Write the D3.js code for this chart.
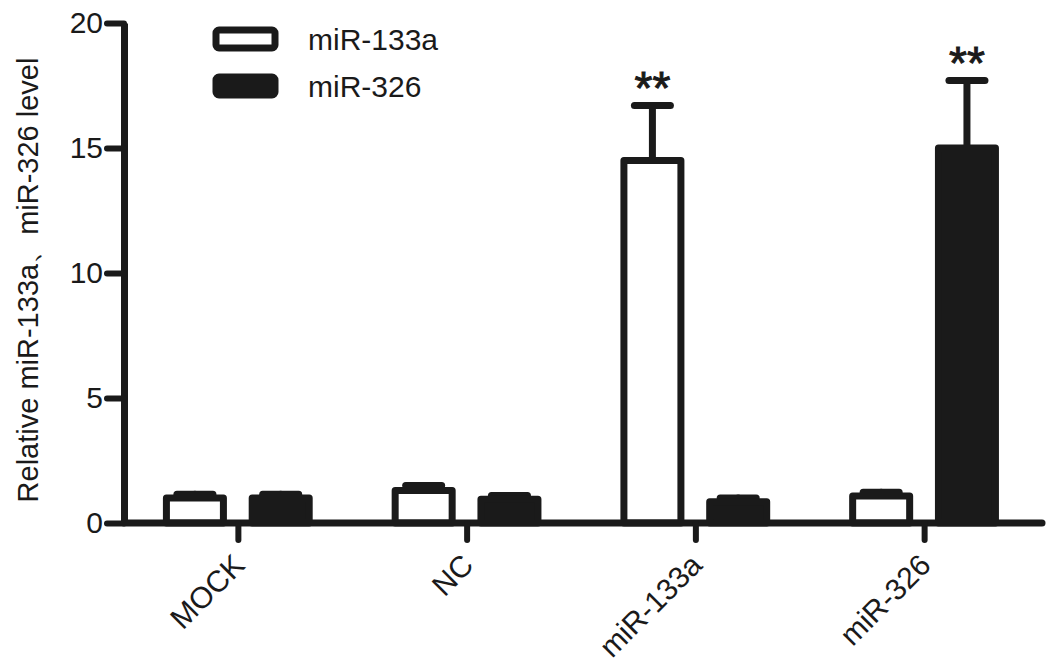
<!DOCTYPE html>
<html>
<head>
<meta charset="utf-8">
<script src="https://cdn.jsdelivr.net/npm/d3@7"></script>
<style>
  body { margin: 0; background: #fff; }
  svg { display: block; font-family: "Liberation Sans", Arial, sans-serif; }
</style>
</head>
<body>
<script>
// Groups on the x axis and the two series
var categories = ["MOCK", "NC", "miR-133a", "miR-326"];
var seriesNames = ["miR-133a", "miR-326"];

// Relative level values
var mir133aValues = [1.0, 1.3, 14.5, 1.08];
var mir133aErrors = [0.15, 0.2, 2.2, 0.15];
var mir326Values = [1.0, 0.95, 0.85, 15.0];
var mir326Errors = [0.15, 0.15, 0.15, 2.7];
var mir133aMarks = ["", "", "**", ""];
var mir326Marks = ["", "", "", "**"];

var yTicks = [0, 5, 10, 15, 20];

var svgWidth = 1063;
var svgHeight = 666;
var ink = "#1a1a1a";
var lineW = 7;

var svg = d3.select("body")
  .append("svg")
  .attr("width", svgWidth)
  .attr("height", svgHeight);

// scales
var x0 = d3.scaleBand()
  .domain(categories)
  .range([124, 1039]);

var x1 = d3.scalePoint()
  .domain(seriesNames)
  .range([x0.bandwidth() * 0.31, x0.bandwidth() * 0.685]);

var y = d3.scaleLinear()
  .domain([0, 20])
  .range([523, 23]);

var barW = 57;
var capW = 36;

// build rows per series
var series = [
  { name: seriesNames[0], fill: "#fff", values: mir133aValues, errors: mir133aErrors, marks: mir133aMarks },
  { name: seriesNames[1], fill: ink, values: mir326Values, errors: mir326Errors, marks: mir326Marks }
];

var rows = [];
series.forEach(function(s) {
  categories.forEach(function(c, i) {
    rows.push({ cat: c, series: s.name, fill: s.fill, value: s.values[i], err: s.errors[i], mark: s.marks[i] });
  });
});

function cx(d) { return x0(d.cat) + x1(d.series); }

// error bars
var errG = svg.append("g")
  .attr("stroke", ink)
  .attr("stroke-width", lineW)
  .attr("stroke-linecap", "round");

errG.selectAll(".stem")
  .data(rows)
  .enter()
  .append("line")
  .attr("x1", cx)
  .attr("x2", cx)
  .attr("y1", d => y(d.value))
  .attr("y2", d => y(d.value + d.err));

errG.selectAll(".cap")
  .data(rows)
  .enter()
  .append("line")
  .attr("x1", d => cx(d) - capW / 2)
  .attr("x2", d => cx(d) + capW / 2)
  .attr("y1", d => y(d.value + d.err))
  .attr("y2", d => y(d.value + d.err));

// bars
svg.append("g")
  .selectAll("rect")
  .data(rows)
  .enter()
  .append("rect")
  .attr("x", d => cx(d) - barW / 2)
  .attr("width", barW)
  .attr("y", d => y(d.value))
  .attr("height", d => y(0) - y(d.value))
  .attr("fill", d => d.fill)
  .attr("stroke", ink)
  .attr("stroke-width", lineW)
  .attr("stroke-linejoin", "round");

// significance stars
svg.append("g")
  .selectAll("text")
  .data(rows.filter(d => d.mark))
  .enter()
  .append("text")
  .attr("x", cx)
  .attr("y", d => y(d.value + d.err) - 2)
  .attr("text-anchor", "middle")
  .attr("font-size", 46)
  .attr("fill", ink)
  .attr("stroke", ink)
  .attr("stroke-width", 1)
  .text(d => d.mark);

// y axis
var yAxis = svg.append("g")
  .attr("transform", "translate(124,0)")
  .call(d3.axisLeft(y).tickValues(yTicks).tickSize(17).tickSizeOuter(0).tickPadding(4));

yAxis.select(".domain")
  .attr("stroke", ink)
  .attr("stroke-width", lineW);
yAxis.selectAll(".tick line")
  .attr("stroke", ink)
  .attr("stroke-width", 6)
  .attr("stroke-linecap", "round");
yAxis.selectAll(".tick text")
  .attr("font-size", 30)
  .attr("font-family", "Liberation Sans, Arial, sans-serif")
  .attr("fill", ink);

// x axis
var xAxis = svg.append("g")
  .attr("transform", "translate(0,523)")
  .call(d3.axisBottom(x0).tickSize(17).tickSizeOuter(0));

xAxis.select(".domain")
  .attr("stroke", ink)
  .attr("stroke-width", lineW)
  .attr("stroke-linecap", "round")
  .attr("d", "M124,0H1042");
xAxis.selectAll(".tick line")
  .attr("stroke", ink)
  .attr("stroke-width", 6)
  .attr("stroke-linecap", "round");
xAxis.selectAll(".tick text")
  .attr("y", 0)
  .attr("dy", null)
  .attr("text-anchor", "end")
  .attr("transform", "translate(8,44) rotate(-45)")
  .attr("font-size", 30)
  .attr("font-family", "Liberation Sans, Arial, sans-serif")
  .attr("fill", ink);

// y axis title
svg.append("text")
  .attr("transform", "translate(38,280) rotate(-90)")
  .attr("text-anchor", "middle")
  .attr("font-size", 29)
  .attr("fill", ink)
  .text("Relative miR-133a\u3001miR-326 level");

// legend
var legend = svg.append("g")
  .selectAll("g")
  .data(series)
  .enter()
  .append("g")
  .attr("transform", (d, i) => `translate(216,${39 + i * 47})`);

legend.append("rect")
  .attr("x", 0)
  .attr("y", -9)
  .attr("width", 59)
  .attr("height", 18)
  .attr("rx", 3)
  .attr("fill", d => d.fill)
  .attr("stroke", ink)
  .attr("stroke-width", lineW)
  .attr("stroke-linejoin", "round");

legend.append("text")
  .attr("x", 92)
  .attr("y", 0)
  .attr("dy", "0.35em")
  .attr("font-size", 30)
  .attr("fill", ink)
  .text(d => d.name);
</script>
</body>
</html>
